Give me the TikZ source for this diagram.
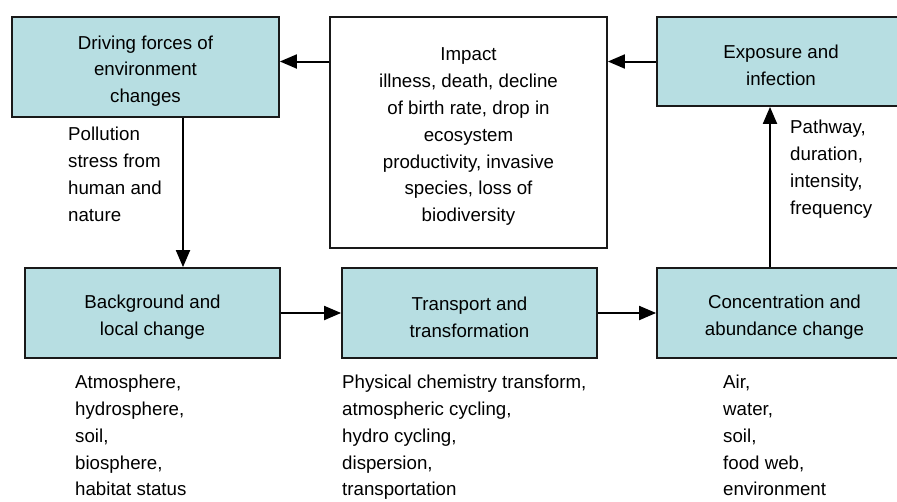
\documentclass[tikz,border=0pt]{standalone}
\usepackage{fontspec}
\setmainfont{Liberation Sans}
\usepackage{tikz}
\usetikzlibrary{arrows.meta,positioning}
\usepackage{xcolor}
\definecolor{envteal}{RGB}{183,222,226}
\definecolor{envedge}{RGB}{25,25,25}
\newcommand{\lift}{\rule{0pt}{21.5pt}}
\tikzstyle{stage} = [draw=envedge, line width=1.8pt, fill=envteal, align=center, inner sep=0pt, font=\fontsize{18.7}{26.8}\selectfont]
\tikzstyle{impactbox} = [stage, fill=white]
\tikzstyle{note} = [align=left, anchor=north west, inner sep=0pt, font=\fontsize{18.7}{26.8}\selectfont]
\tikzstyle{arrow} = [line width=2pt, color=black, -{Triangle[length=17pt,width=14pt]}]

\begin{document}
\begin{tikzpicture}[x=1pt,y=-1pt]
\useasboundingbox (0,0) rectangle (897,501);

% Top row
\node[stage, minimum width=267pt, minimum height=100pt] (Driving) at (145.5,67) {\lift Driving forces of\\environment\\changes};
\node[impactbox, minimum width=277pt, minimum height=231pt] (Impact) at (468.5,132.5) {\lift Impact\\illness, death, decline\\of birth rate, drop in\\ecosystem\\productivity, invasive\\species, loss of\\biodiversity};
\node[stage, minimum width=248pt, minimum height=89pt] (Exposure) at (781,61.5) {\lift Exposure and\\infection};

% Bottom row
\node[stage, minimum width=255pt, minimum height=90pt] (Background) at (152.5,313) {\lift Background and\\local change};
\node[stage, minimum width=255pt, minimum height=90pt] (Transport) at (469.5,313) {\lift Transport and\\transformation};
\node[stage, minimum width=255pt, minimum height=90pt] (Concentration) at (784.5,313) {\lift Concentration and\\abundance change};

% Side notes
\node[note] (pollution) at (68,127) {Pollution\\stress from\\human and\\nature};
\node[note] (pathway) at (790,120) {Pathway,\\duration,\\intensity,\\frequency};
\node[note] (spheres) at (75,375) {Atmosphere,\\hydrosphere,\\soil,\\biosphere,\\habitat status};
\node[note] (cycling) at (342,375) {Physical chemistry transform,\\atmospheric cycling,\\hydro cycling,\\dispersion,\\transportation};
\node[note] (media) at (723,375) {Air,\\water,\\soil,\\food web,\\environment};

% Connectors
\coordinate (pollx) at (183,0);
\coordinate (expx) at (770,0);
\draw[arrow] (Exposure.west) -- (Impact.east |- Exposure.west);
\draw[arrow] (Impact.west |- Exposure.west) -- (Driving.east |- Exposure.west);
\draw[arrow] (Driving.south -| pollx) -- (Background.north -| pollx);
\draw[arrow] (Background.east) -- (Transport.west);
\draw[arrow] (Transport.east) -- (Concentration.west);
\draw[arrow] (Concentration.north -| expx) -- (Exposure.south -| expx);
\end{tikzpicture}
\end{document}
